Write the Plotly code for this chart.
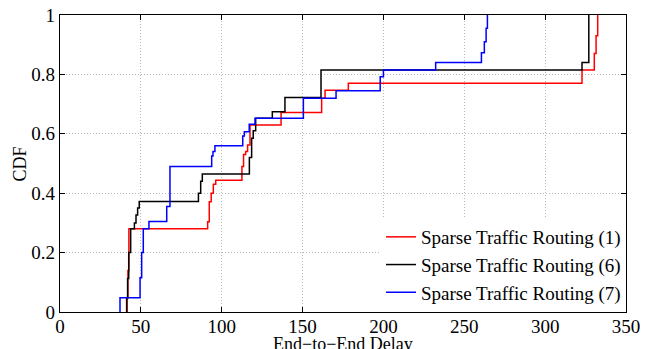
import plotly.graph_objects as go

# Step CDF data: delay values where the CDF jumps, and CDF level after each jump
red_x = [41.5, 41.5, 42.0, 42.6, 91.3, 92.3, 93.5, 94.8, 96.3, 112.5, 113.5, 114.8, 116.0, 117.5, 136.7,
         161.8, 163.9, 178.3, 322.8, 330.4, 331.5, 332.5]
red_y = [0.0, 0.047, 0.14, 0.28, 0.304, 0.371, 0.40, 0.43, 0.444, 0.49, 0.53, 0.54, 0.562, 0.63, 0.672,
         0.72, 0.747, 0.77, 0.815, 0.87, 0.93, 1.0]

black_x = [41.2, 41.2, 41.8, 42.5, 43.7, 46.0, 47.0, 48.0, 49.0, 85.6, 87.0, 88.0, 117.1, 118.5, 119.5,
           121.0, 131.3, 139.1, 161.4, 322.8, 327.0]
black_y = [0.0, 0.048, 0.113, 0.2, 0.28, 0.30, 0.327, 0.35, 0.372, 0.40, 0.44, 0.465, 0.52, 0.585, 0.61,
           0.652, 0.674, 0.722, 0.815, 0.84, 1.0]

blue_x = [37.1, 37.1, 49.5, 50.5, 51.5, 55.0, 66.0, 68.0, 93.8, 94.6, 95.8, 113.0, 114.0, 117.0, 120.6,
          150.5, 170.7, 198.0, 200.0, 232.3, 260.6, 262.4, 263.5, 264.3]
blue_y = [0.0, 0.048, 0.115, 0.2, 0.28, 0.305, 0.355, 0.49, 0.525, 0.54, 0.56, 0.593, 0.607, 0.632, 0.652,
          0.72, 0.745, 0.792, 0.815, 0.84, 0.873, 0.91, 0.955, 1.0]

names = ["Sparse Traffic Routing (1)", "Sparse Traffic Routing (6)", "Sparse Traffic Routing (7)"]
x_ticks = [0, 50, 100, 150, 200, 250, 300, 350]
y_ticks = [0, 0.2, 0.4, 0.6, 0.8, 1]
y_tick_labels = ["0", "0.2", "0.4", "0.6", "0.8", "1"]
x_title = "End\u2212to\u2212End Delay"
y_title = "CDF"

FONT = "Liberation Serif"

fig = go.Figure()
for xs, ys, col, nm in [(red_x, red_y, "#ff0000", names[0]),
                        (black_x, black_y, "#000000", names[1]),
                        (blue_x, blue_y, "#0000ff", names[2])]:
    fig.add_trace(go.Scatter(x=xs, y=ys, mode="lines", line=dict(color=col, width=1.5, shape="hv"), name=nm))

axis_common = dict(
    showline=True, linecolor="black", linewidth=1.2, mirror="ticks",
    ticks="inside", ticklen=5, tickcolor="black",
    showgrid=True, gridcolor="#b8b8b8", griddash="1px,2px", gridwidth=1,
    zeroline=False, tickfont=dict(family=FONT, size=19, color="black"),
    automargin=False,
)

fig.update_layout(
    width=654, height=349,
    margin=dict(l=60, r=28, t=15, b=37),
    paper_bgcolor="white", plot_bgcolor="white",
    font=dict(family=FONT, size=19, color="black"),
    xaxis=dict(range=[0, 350], tickvals=x_ticks, ticklabelstandoff=-3, **axis_common),
    yaxis=dict(range=[0, 1], tickvals=y_ticks, ticktext=y_tick_labels, **axis_common),
    legend=dict(x=1, xanchor="right", y=0, yanchor="bottom", bgcolor="white",
                borderwidth=0, font=dict(family=FONT, size=19, color="black"),
                tracegroupgap=0, itemwidth=30),
    showlegend=True,
)

# axis titles as annotations (so they can sit exactly where the reference has them)
fig.add_annotation(text=x_title, xref="paper", yref="paper", x=0.5, y=-0.108,
                   xanchor="center", yanchor="middle", showarrow=False,
                   font=dict(family=FONT, size=18, color="black"))
fig.add_annotation(text=y_title, xref="paper", yref="paper", x=-0.0707, y=0.5,
                   xanchor="center", yanchor="middle", textangle=-90, showarrow=False,
                   font=dict(family=FONT, size=18, color="black"))

fig.write_html("out.html")
